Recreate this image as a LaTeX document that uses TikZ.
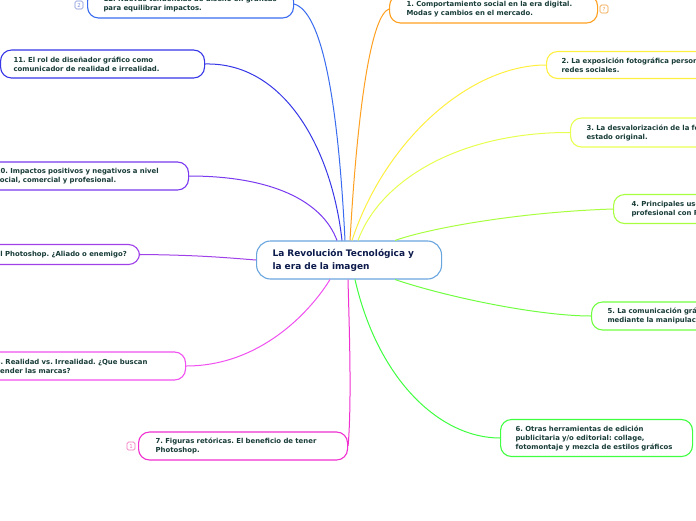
\documentclass[tikz,border=0pt]{standalone}
\usepackage{fontspec}
\setmainfont{DejaVu Sans}
\frenchspacing
\definecolor{cc}{HTML}{6AA6DE}
\definecolor{ctxt}{HTML}{0D1B4C}
\definecolor{txt}{HTML}{183C38}
\definecolor{k12}{HTML}{3A6CF0}
\definecolor{k11}{HTML}{3737E8}
\definecolor{k10}{HTML}{7A3AF0}
\definecolor{k9}{HTML}{A040E8}
\definecolor{k8}{HTML}{F050F0}
\definecolor{k7}{HTML}{F030D0}
\definecolor{k1}{HTML}{FFA020}
\definecolor{k2}{HTML}{FFF040}
\definecolor{k3}{HTML}{E8FF50}
\definecolor{k4}{HTML}{A8FF40}
\definecolor{k5}{HTML}{70FF40}
\definecolor{k6}{HTML}{40FF40}
\definecolor{bb}{HTML}{7F90D8}
\definecolor{bo}{HTML}{F0A040}
\definecolor{bp}{HTML}{F07AC0}
\newcommand\nfont{\fontsize{6.9}{9}\selectfont\bfseries}
\newcommand\cfont{\fontsize{9}{13}\selectfont\bfseries}
\newcommand\ml[1]{\mbox{#1}}
\tikzset{
  box/.style={draw=#1, line width=1.1pt, rounded corners=11pt, fill=white,
    inner ysep=0pt, align=left, text=txt, font=\nfont, anchor=west},
  conn/.style={draw=#1, line width=1pt},
  badge/.style={draw=#1, text=#1, line width=0.7pt, rounded corners=1.5pt,
    minimum size=8pt, inner sep=0pt, font=\fontsize{5.5}{5.5}\selectfont},
}
\begin{document}
\begin{tikzpicture}[x=1pt,y=-1pt]
\clip (0,0) rectangle (696,520);
\fill[white] (0,0) rectangle (696,520);
% center
\node[box=cc, draw=cc, rounded corners=14pt, inner xsep=16pt, text width=153pt,
  minimum height=38pt, text=ctxt, font=\cfont] (c) at (256,260)
  {\ml{La Revolución Tecnológica y}\\\ml{la era de la imagen}};
% left nodes
\node[box=k12, inner xsep=16pt, text width=174pt, minimum height=28pt] (n12) at (87,4)
  {\ml{12. Nuevas tendencias de diseño en gráficas}\\\ml{para equilibrar impactos.}};
\node[box=k11, inner xsep=13pt, text width=178pt, minimum height=28pt] (n11) at (0,64)
  {\ml{11. El rol de diseñador gráfico como}\\\ml{comunicador de realidad e irrealidad.}};
\node[box=k10, inner xsep=15pt, text width=177.8pt, minimum height=28pt] (n10) at (-19.8,176)
  {\ml{10. Impactos positivos y negativos a nivel}\\\ml{social, comercial y profesional.}};
\node[box=k9, inner xsep=15pt, text width=138.5pt, minimum height=20pt] (n9) at (-29.5,254.5)
  {\ml{9. El Photoshop. ¿Aliado o enemigo?}};
\node[box=k8, inner xsep=15pt, text width=174.8pt, minimum height=28pt] (n8) at (-19.8,366)
  {\ml{8. Realidad vs. Irrealidad. ¿Que buscan}\\\ml{vender las marcas?}};
\node[box=k7, inner xsep=17pt, text width=175pt, minimum height=28pt] (n7) at (138,446)
  {\ml{7. Figuras retóricas. El beneficio de tener}\\\ml{Photoshop.}};
% right nodes
\node[box=k1, inner xsep=17pt, text width=174pt, minimum height=28pt] (n1) at (389,9)
  {\ml{1. Comportamiento social en la era digital.}\\\ml{Modas y cambios en el mercado.}};
\node[box=k2, inner xsep=15pt, text width=240pt, minimum height=27pt] (n2) at (546,65)
  {\ml{2. La exposición fotográfica personal en las}\\\ml{redes sociales.}};
\node[box=k3, inner xsep=16pt, text width=240pt, minimum height=29pt] (n3) at (570,132.5)
  {\ml{3. La desvalorización de la fotografía en su}\\\ml{estado original.}};
\node[box=k4, inner xsep=18pt, text width=240pt, minimum height=29pt] (n4) at (613,209)
  {\ml{4. Principales usos a nivel}\\\ml{profesional con Photoshop.}};
\node[box=k5, inner xsep=16pt, text width=240pt, minimum height=28pt] (n5) at (591,316)
  {\ml{5. La comunicación gráfica}\\\ml{mediante la manipulación de imágenes.}};
\node[box=k6, inner xsep=15pt, text width=162pt, minimum height=37pt] (n6) at (500,438)
  {\ml{6. Otras herramientas de edición}\\\ml{publicitaria y/o editorial: collage,}\\\ml{fotomontaje y mezcla de estilos gráficos}};
% badges
\node[badge=bb] (b12) at (79,5) {2};
\node[badge=bo] (b1) at (604,9) {?};
\node[badge=bp] (b7) at (131,446) {1};
% connectors
\draw[conn=k12] (n12.east) .. controls (322,12) and (338,100) .. ([xshift=89pt]c.north west);
\draw[conn=k1] (n1.west) .. controls (372,15) and (358,100) .. ([xshift=94pt]c.north west);
\draw[conn=k11] (n11.east) .. controls (285,62) and (332,150) .. ([xshift=86pt]c.north west);
\draw[conn=k2] (n2.west) .. controls (470,65) and (385,140) .. ([xshift=96pt]c.north west);
\draw[conn=k10] (n10.east) .. controls (270,176) and (322,200) .. ([xshift=81pt]c.north west);
\draw[conn=k3] (n3.west) .. controls (460,132) and (380,180) .. ([xshift=102pt]c.north west);
\draw[conn=k9] (n9.east) .. controls (200,255) and (230,258) .. (c.west);
\draw[conn=k4] (n4.west) .. controls (520,212) and (430,228) .. ([xshift=139pt]c.north west);
\draw[conn=k8] (n8.east) .. controls (260,366) and (310,312) .. ([xshift=74pt]c.south west);
\draw[conn=k7] (n7.east) .. controls (352,400) and (349,320) .. ([xshift=92pt]c.south west);
\draw[conn=k5] (n5.west) .. controls (540,316) and (450,298) .. ([xshift=139pt]c.south west);
\draw[conn=k6] (n6.west) .. controls (440,438) and (378,380) .. ([xshift=99pt]c.south west);
\end{tikzpicture}
\end{document}
